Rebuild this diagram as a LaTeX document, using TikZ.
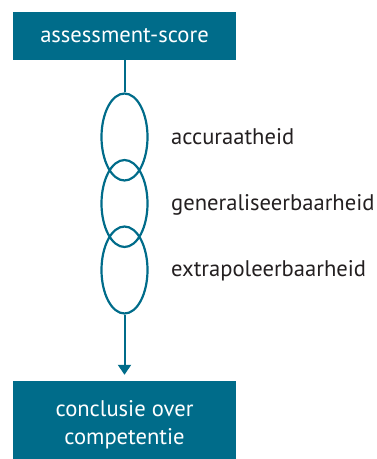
\documentclass[tikz,border=0pt]{standalone}
\usepackage{fontspec}
\setmainfont{PT Sans}
\usetikzlibrary{shapes.geometric,arrows.meta}
\definecolor{teal1}{RGB}{0,108,138}
\definecolor{ink}{RGB}{35,31,32}
\tikzset{
  box/.style={fill=teal1, draw=none, text=white, minimum width=223pt, align=center, inner sep=0pt, font=\fontsize{22.6}{28}\selectfont},
  ring/.style={ellipse, draw=teal1, line width=2.2pt, minimum width=46pt, minimum height=87pt, inner sep=0pt},
  lbl/.style={anchor=base west, text=ink, inner sep=0pt, font=\fontsize{22.6}{26}\selectfont},
  link/.style={draw=teal1, line width=2pt}
}
\begin{document}
\begin{tikzpicture}[x=1pt,y=-1pt]
\useasboundingbox (0,0) rectangle (376,459);
\node[box, minimum height=48pt] (top) at (124.5,36) {assessment-score};
\node[box, minimum height=88pt] (bot) at (124.5,425) {conclusie over\\competentie};
\node[ring] (e1) at (124.5,137) {};
\node[ring] (e2) at (124.5,203.5) {};
\node[ring] (e3) at (124.5,270) {};
\node[lbl] (l1) at (171,144) {accuraatheid};
\node[lbl] (l2) at (171,210) {generaliseerbaarheid};
\node[lbl] (l3) at (171,276) {extrapoleerbaarheid};
\draw[link] (top.south) -- (e1.north);
\draw[link, -{Triangle[width=13pt,length=10pt]}, shorten >=6pt] (e3.south) -- (bot.north);
\end{tikzpicture}
\end{document}
